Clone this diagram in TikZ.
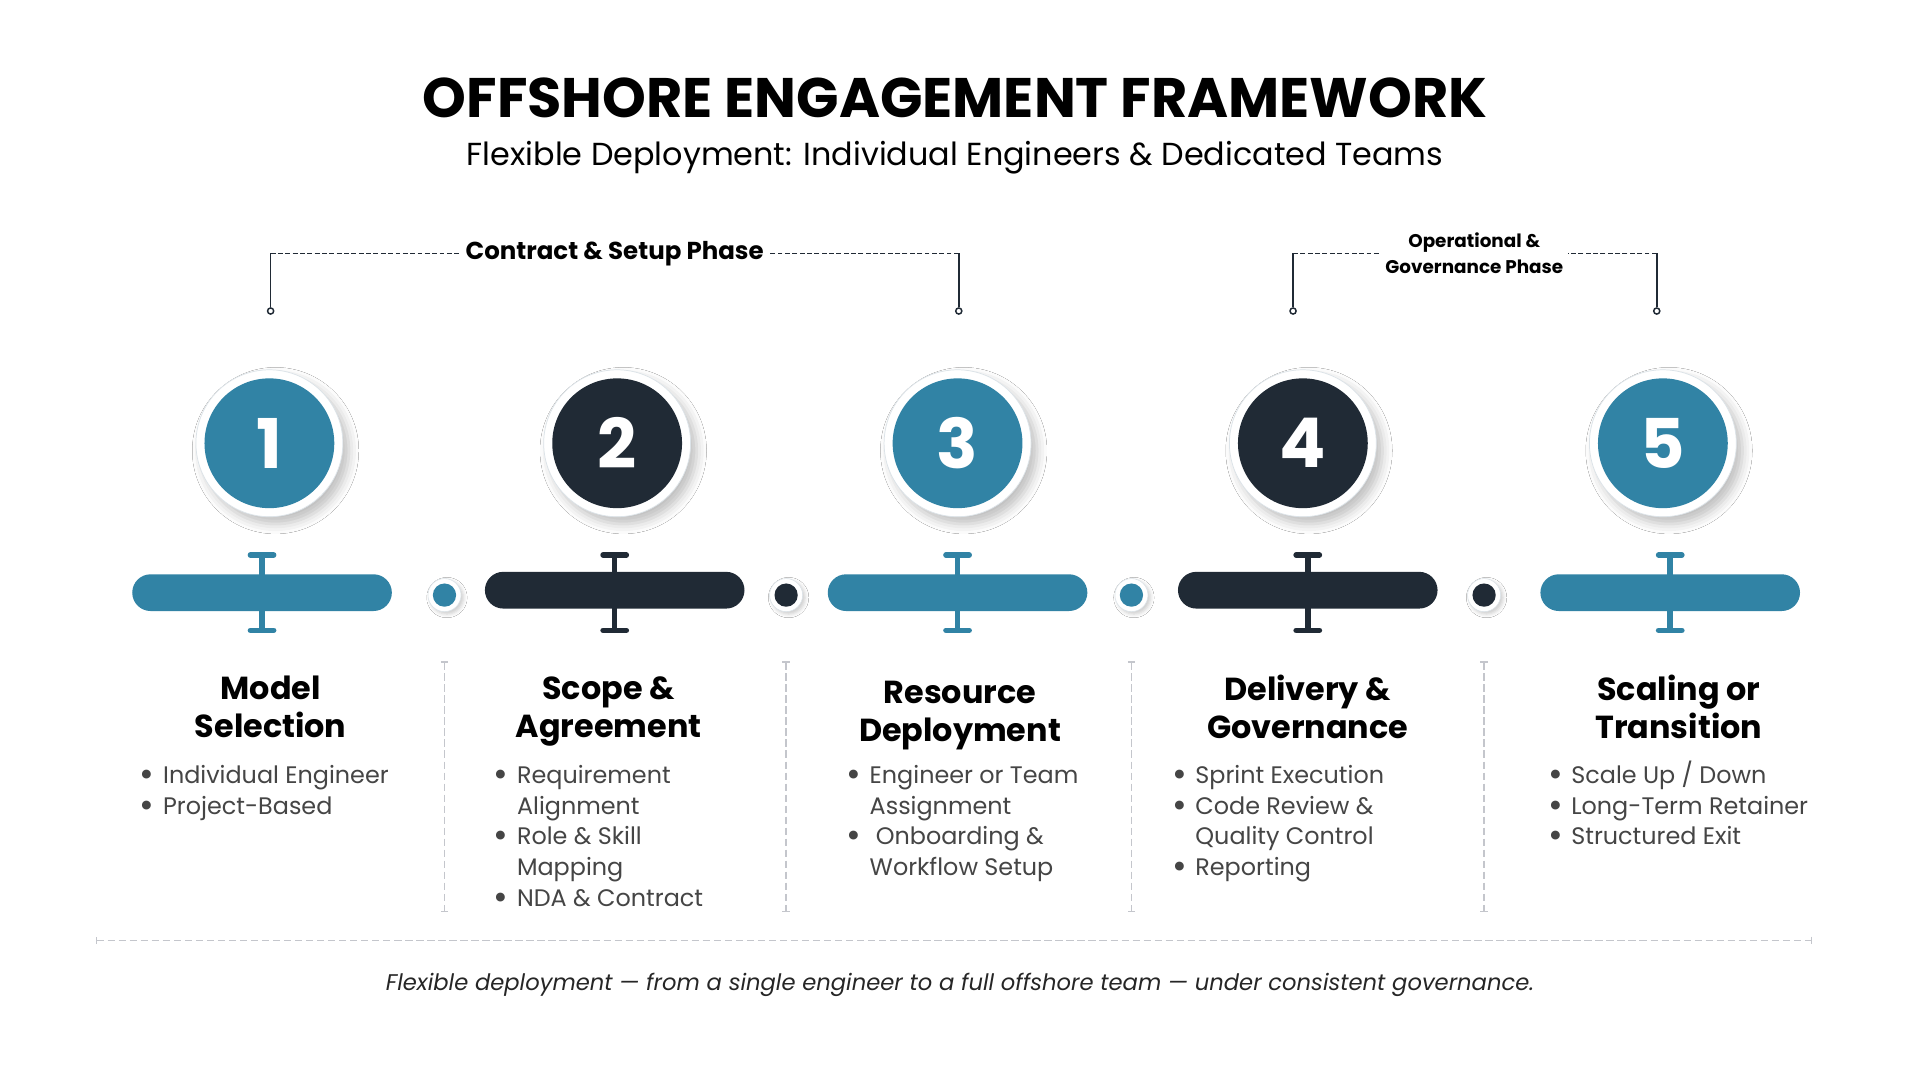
\documentclass[tikz,border=0pt]{standalone}
\usepackage{fontspec}
\setmainfont{Poppins}
\usetikzlibrary{shapes, arrows.meta, shadows.blur}

\definecolor{tealc}{HTML}{3183A5}
\definecolor{navyc}{HTML}{202A35}
\definecolor{ringgray}{HTML}{DCE3E8}
\definecolor{sepgray}{HTML}{C4C6CC}
\definecolor{itemgray}{HTML}{454545}

\tikzset{
  ring/.style={circle, fill=white, draw=ringgray, line width=0.6pt, minimum size=120pt, inner sep=0pt,
    blur shadow={shadow xshift=5pt, shadow yshift=-6pt, shadow blur radius=8pt, shadow opacity=25}},
  num/.style={circle, minimum size=106pt, inner sep=0pt, text=white, font=\fontsize{56}{56}\selectfont\bfseries},
  bar/.style={rectangle, rounded corners=15pt, minimum width=212pt, minimum height=30pt, inner sep=0pt},
  beam/.style={line width=4.5pt, {Bar[width=19pt,round]}-{Bar[width=19pt,round]}},
  dotring/.style={circle, fill=white, draw=ringgray, line width=0.5pt, minimum size=27pt, inner sep=0pt,
    blur shadow={shadow xshift=2pt, shadow yshift=-2pt, shadow blur radius=3pt, shadow opacity=20}},
  dotfill/.style={circle, minimum size=19pt, inner sep=0pt},
  pin/.style={circle, draw=navyc, line width=1.2pt, fill=white, minimum size=5pt, inner sep=0pt},
  vline/.style={draw=navyc, line width=1.4pt},
  hdash/.style={draw=navyc, line width=1.2pt, dash pattern=on 4pt off 2pt},
  phase/.style={font=\fontsize{20}{22}\selectfont\bfseries, inner sep=4pt},
  sepline/.style={draw=sepgray, line width=1.2pt, dash pattern=on 6pt off 3pt,
    {Bar[width=6pt,line width=1.2pt]}-{Bar[width=6pt,line width=1.2pt]}},
  head/.style={align=center, font=\fontsize{26}{31}\selectfont\bfseries},
  items/.style={anchor=base west, inner sep=0pt, text=itemgray, font=\fontsize{19.5}{25}\selectfont},
}

\newcommand{\pt}{\raisebox{-2.5pt}[0pt][0pt]{\scalebox{1.5}{\textbullet}}\hspace{7pt}}

\begin{document}
\begin{tikzpicture}[x=1pt, y=-1pt]
\useasboundingbox[fill=white] (0,0) rectangle (1568,882);

% title
\node[font=\fontsize{45.5}{50}\selectfont\bfseries, text=black] (title) at (780,80)
  {OFFSHORE ENGAGEMENT FRAMEWORK};
\node[font=\fontsize{26}{28}\selectfont, text=black] (subtitle) at (780,129)
  {Flexible Deployment: Individual Engineers \& Dedicated Teams};

% phase brackets
\node[pin] (pa1) at (221,254) {};
\node[pin] (pa2) at (783,254) {};
\node[phase] (ph1) at (502,207) {Contract \& Setup Phase};
\draw[vline] (pa1.north) -- (pa1 |- ph1);
\draw[hdash] (pa1 |- ph1) -- (ph1.west);
\draw[vline] (pa2.north) -- (pa2 |- ph1);
\draw[hdash] (pa2 |- ph1) -- (ph1.east);

\node[pin] (pb1) at (1056,254) {};
\node[pin] (pb2) at (1353,254) {};
\node[phase, align=center, font=\fontsize{15}{21}\selectfont\bfseries] (ph2) at (1204,207)
  {Operational \&\\Governance Phase};
\draw[vline] (pb1.north) -- (pb1 |- ph2);
\draw[hdash] (pb1 |- ph2) -- (ph2.west);
\draw[vline] (pb2.north) -- (pb2 |- ph2);
\draw[hdash] (pb2 |- ph2) -- (ph2.east);

% step circles
\node[ring] (r1) at (220,362) {};
\node[num, fill=tealc] (n1) at (r1) {1};
\node[ring] (r2) at (504,362) {};
\node[num, fill=navyc] (n2) at (r2) {2};
\node[ring] (r3) at (782,362) {};
\node[num, fill=tealc] (n3) at (r3) {3};
\node[ring] (r4) at (1064,362) {};
\node[num, fill=navyc] (n4) at (r4) {4};
\node[ring] (r5) at (1358,362) {};
\node[num, fill=tealc] (n5) at (r5) {5};

% bars
\node[bar, fill=tealc] (b1) at (214,484) {};
\draw[beam, draw=tealc] ([yshift=33pt]b1.center) -- ([yshift=-33pt]b1.center);
\node[bar, fill=navyc] (b2) at (502,482) {};
\draw[beam, draw=navyc] ([yshift=31pt]b2.center) -- ([yshift=-35pt]b2.center);
\node[bar, fill=tealc] (b3) at (782,484) {};
\draw[beam, draw=tealc] ([yshift=33pt]b3.center) -- ([yshift=-33pt]b3.center);
\node[bar, fill=navyc] (b4) at (1068,482) {};
\draw[beam, draw=navyc] ([yshift=31pt]b4.center) -- ([yshift=-35pt]b4.center);
\node[bar, fill=tealc] (b5) at (1364,484) {};
\draw[beam, draw=tealc] ([yshift=33pt]b5.center) -- ([yshift=-33pt]b5.center);

% dots between bars
\node[dotring] (d1) at (363,486) {};
\node[dotfill, fill=tealc] at (d1) {};
\node[dotring] (d2) at (642,486) {};
\node[dotfill, fill=navyc] at (d2) {};
\node[dotring] (d3) at (924,486) {};
\node[dotfill, fill=tealc] at (d3) {};
\node[dotring] (d4) at (1212,486) {};
\node[dotfill, fill=navyc] at (d4) {};

% separators
\coordinate (s1) at (363,540);
\coordinate (s2) at (642,540);
\coordinate (s3) at (924,540);
\coordinate (s4) at (1212,540);
\draw[sepline] (s1) -- ++(0,205);
\draw[sepline] (s2) -- ++(0,205);
\draw[sepline] (s3) -- ++(0,205);
\draw[sepline] (s4) -- ++(0,205);

% headings
\node[head] (h1) at (221,577) {Model\\Selection};
\node[head] (h2) at (497,581) {Scope \&\\Agreement};
\node[head] (h3) at (784,584) {Resource\\Deployment};
\node[head] (h4) at (1068,577) {Delivery \&\\Governance};
\node[head] (h5) at (1371,577) {Scaling or\\Transition};

% bullet lists
\node[items] (l1) at (114,640)
  {\begin{tabular}[t]{@{}l@{}}\pt Individual Engineer\\\pt Project-Based\end{tabular}};
\node[items] (l2) at (403,640)
  {\begin{tabular}[t]{@{}l@{}}\pt Requirement\\\phantom{\pt}Alignment\\\pt Role \& Skill\\\phantom{\pt}Mapping\\\pt NDA \& Contract\end{tabular}};
\node[items] (l3) at (691,640)
  {\begin{tabular}[t]{@{}l@{}}\pt Engineer or Team\\\phantom{\pt}Assignment\\\pt\hspace{5pt}Onboarding \&\\\phantom{\pt}Workflow Setup\end{tabular}};
\node[items] (l4) at (957,640)
  {\begin{tabular}[t]{@{}l@{}}\pt Sprint Execution\\\pt Code Review \&\\\phantom{\pt}Quality Control\\\pt Reporting\end{tabular}};
\node[items] (l5) at (1264,640)
  {\begin{tabular}[t]{@{}l@{}}\pt Scale Up / Down\\\pt Long-Term Retainer\\\pt Structured Exit\end{tabular}};

% footer
\coordinate (fl) at (78,768);
\coordinate (fr) at (1480,768);
\draw[sepline] (fl) -- (fr);
\node[font=\fontsize{18.5}{22}\selectfont\itshape, text=black!85] (foot) at (784,804)
  {Flexible deployment --- from a single engineer to a full offshore team --- under consistent governance.};

\end{tikzpicture}
\end{document}
